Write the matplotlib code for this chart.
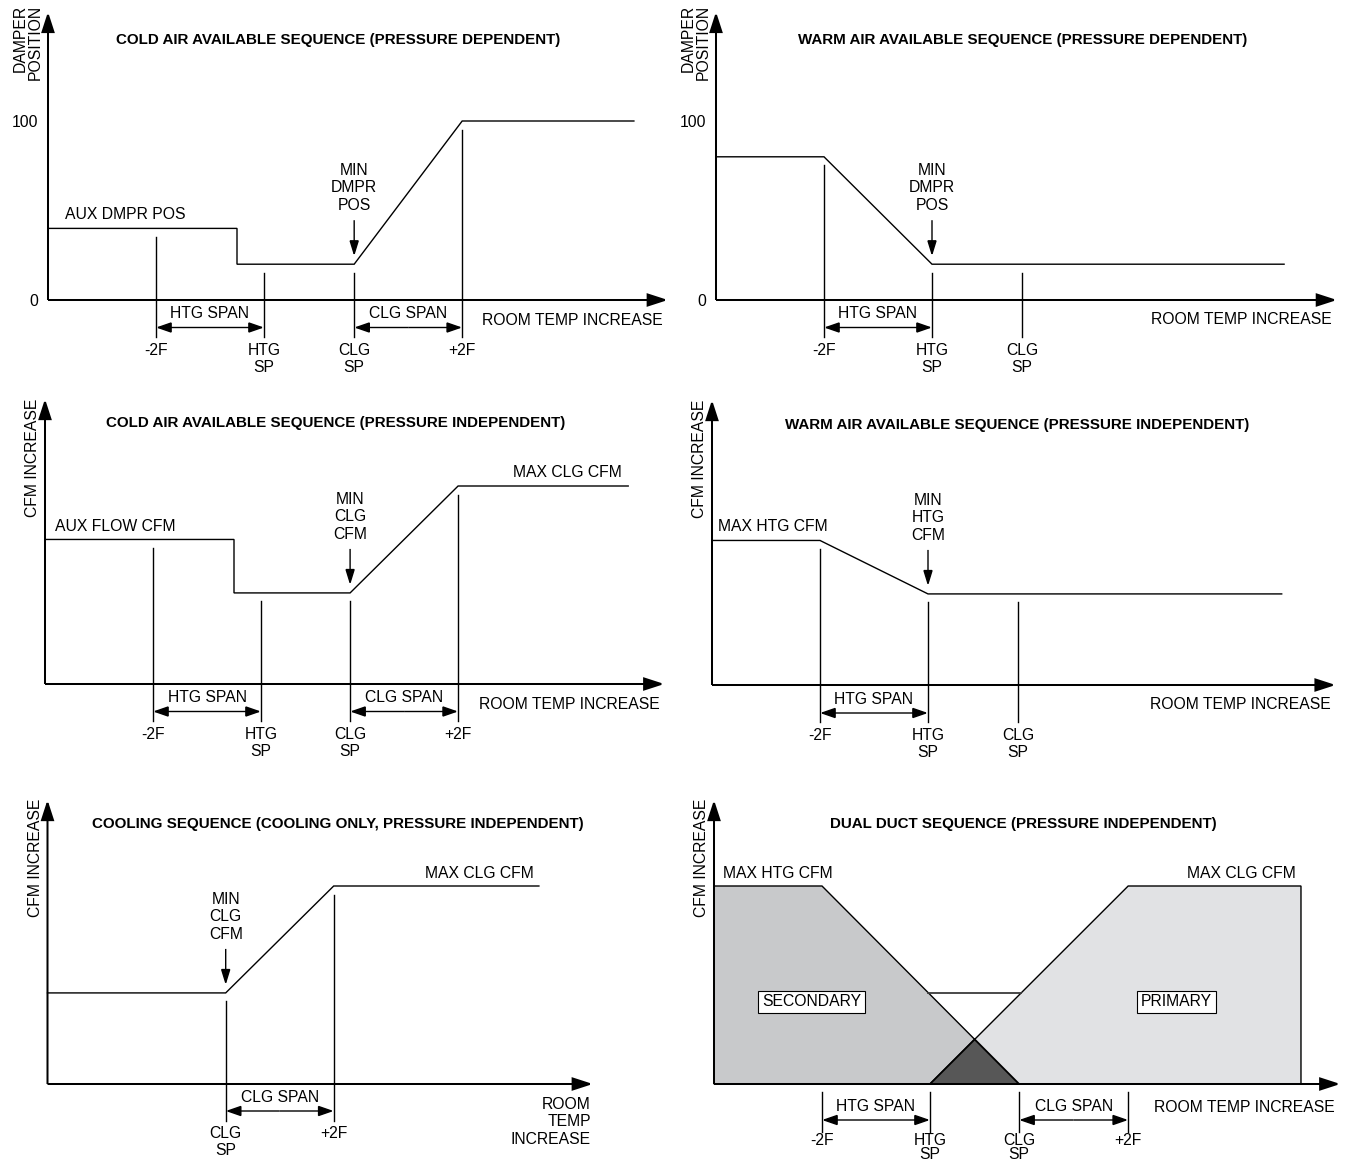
import numpy as np
import matplotlib
matplotlib.use("Agg")
import matplotlib.pyplot as plt
from matplotlib.patches import Polygon

# ---------------- data (x in deg F from the CFM/damper axis, y in % of max) ----------------
# A: cold air available sequence (pressure dependent)
a_curve_x = [0.0, 3.5, 3.5, 5.67, 7.67, 10.85]
a_curve_y = [40, 40, 20, 20, 100, 100]
a_marks = [2.0, 4.0, 5.67, 7.67]
a_mark_labels = ["-2F", "HTG\nSP", "CLG\nSP", "+2F"]
a_yticks = [0, 100]

# B: warm air available sequence (pressure dependent)
b_curve_x = [0.0, 2.0, 4.0, 10.52]
b_curve_y = [80, 80, 20, 20]
b_marks = [2.0, 4.0, 5.67]
b_mark_labels = ["-2F", "HTG\nSP", "CLG\nSP"]
b_yticks = [0, 100]

# C: cold air available sequence (pressure independent)
c_curve_x = [0.0, 3.5, 3.5, 5.65, 7.65, 10.8]
c_curve_y = [73, 73, 46, 46, 100, 100]
c_marks = [2.0, 4.0, 5.65, 7.65]
c_mark_labels = ["-2F", "HTG\nSP", "CLG\nSP", "+2F"]

# D: warm air available sequence (pressure independent)
d_curve_x = [0.0, 2.0, 4.0, 10.55]
d_curve_y = [73, 73, 46, 46]
d_marks = [2.0, 4.0, 5.67]
d_mark_labels = ["-2F", "HTG\nSP", "CLG\nSP"]

# E: cooling sequence (cooling only)
e_curve_x = [0.0, 3.3, 5.3, 9.1]
e_curve_y = [46, 46, 100, 100]
e_marks = [3.3, 5.3]
e_mark_labels = ["CLG\nSP", "+2F"]

# F: dual duct sequence
f_secondary_x = [0.0, 2.0, 5.65, 0.0]
f_secondary_y = [100, 100, 0, 0]
f_primary_x = [4.0, 7.67, 10.87, 10.87]
f_primary_y = [0, 100, 100, 0]
f_min = 46
f_marks = [2.0, 4.0, 5.65, 7.67]
f_mark_labels = ["-2F", "HTG\nSP", "CLG\nSP", "+2F"]

# ---------------- style ----------------
W, H, DPI = 1348, 1162, 100
plt.rcParams["font.family"] = ["Liberation Sans", "DejaVu Sans"]
FS = 11.3
TFS = 10.9
PX = DPI / 72.0
CAP = 0.716 * FS * PX / 2
TCAP = 0.716 * TFS * PX / 2
AX_LW = 1.45
LN_LW = 1.0
C_SEC = "#c8c9cb"
C_PRI = "#e1e2e4"
C_OVR = "#575757"

fig = plt.figure(figsize=(W / DPI, H / DPI), dpi=DPI)


class Panel:
    def __init__(self, ox, oy, sx, sy):
        self.sx, self.sy = sx, sy
        ax = fig.add_axes([0, 0, 1, 1])
        ax.set_xlim(-ox / sx, (W - ox) / sx)
        ax.set_ylim(-(H - oy) / sy, oy / sy)
        ax.axis("off")
        ax.patch.set_visible(False)
        self.ax = ax

    def dx(self, p):
        return p / self.sx

    def dy(self, p):
        return p / self.sy

    def text(self, x, y, s, dx=0, dy=0, ha="center", bold=False, rot=0, **kw):
        cap = TCAP if bold else CAP
        size = TFS if bold else FS
        if rot:
            self.ax.annotate(s, (x, y), xytext=(dx + cap, dy), textcoords="offset pixels",
                             ha=ha, va="baseline", rotation=rot, rotation_mode="anchor",
                             fontsize=size, fontweight="bold" if bold else "normal", **kw)
        else:
            self.ax.annotate(s, (x, y), xytext=(dx, dy - cap), textcoords="offset pixels",
                             ha=ha, va="baseline", fontsize=size,
                             fontweight="bold" if bold else "normal", **kw)

    def lines_text(self, x, y, s, dx=0, dy=0, step=17.5, ha="center"):
        for i, line in enumerate(s.split("\n")):
            self.text(x, y, line, dx=dx, dy=dy - i * step, ha=ha)

    def arrow(self, p0, p1, hl, hw, lw, style="-|>"):
        self.ax.annotate("", xy=p1, xytext=p0, xycoords="data",
                         arrowprops=dict(arrowstyle=f"{style},head_length={hl},head_width={hw}",
                                         lw=lw, color="black", shrinkA=0, shrinkB=0,
                                         mutation_scale=1.0 / PX, joinstyle="miter",
                                         capstyle="butt"))

    def axes_arrows(self, xtip, ytop):
        self.arrow((0, 0), (xtip, 0), 17, 5.5, AX_LW)
        self.arrow((0, 0), (0, ytop), 17, 5.5, AX_LW)

    def curve(self, xs, ys):
        self.ax.plot(xs, ys, color="black", lw=LN_LW, solid_joinstyle="miter")

    def marks(self, xs, labels, tops, bottom_px=36.5, label_px=49):
        for x, lab, t in zip(xs, labels, tops):
            self.ax.plot([x, x], [t, -self.dy(bottom_px)], color="black", lw=LN_LW)
            self.lines_text(x, 0, lab, dy=-label_px)

    def span(self, x0, x1, label, arrow_px=27.5, text_px=12.5):
        y = -self.dy(arrow_px)
        self.arrow((0.5 * (x0 + x1), y), (x0, y), 13, 4.5, LN_LW)
        self.arrow((0.5 * (x0 + x1), y), (x1, y), 13, 4.5, LN_LW)
        self.text(0.5 * (x0 + x1), 0, label, dy=-text_px)

    def min_label(self, x, y, s):
        self.lines_text(x, y, s, dy=95)
        self.arrow((x, y + self.dy(44)), (x, y + self.dy(8)), 13, 4.0, LN_LW)


GAP = 8.5


def tops_from_curve(P, marks, cx, cy):
    return [np.interp(m, cx, cy) - P.dy(GAP) for m in marks]


# ---------------- panel A ----------------
A = Panel(48, 300, 54, 1.79)
A.axes_arrows(11.48, 161)
A.curve(a_curve_x, a_curve_y)
A.marks(a_marks, a_mark_labels, tops_from_curve(A, a_marks, a_curve_x, a_curve_y))
A.span(a_marks[0], a_marks[1], "HTG SPAN")
A.span(a_marks[2], a_marks[3], "CLG SPAN")
for t in a_yticks:
    A.text(0, t, str(t), dx=-10, ha="right")
A.text(0, 0, "DAMPER", dx=-29, dy=295, ha="right", rot=90)
A.text(0, 0, "POSITION", dx=-13.5, dy=295, ha="right", rot=90)
A.text(5.37, 0, "COLD AIR AVAILABLE SEQUENCE (PRESSURE DEPENDENT)", dy=261, bold=True)
A.text(11.48, 0, "ROOM TEMP INCREASE", dx=-5, dy=-19, ha="right")
A.text(0, a_curve_y[0], "AUX DMPR POS", dx=17, dy=15, ha="left")
A.min_label(a_curve_x[3], a_curve_y[3], "MIN\nDMPR\nPOS")

# ---------------- panel B ----------------
B = Panel(716, 300, 54, 1.79)
B.axes_arrows(11.5, 161)
B.curve(b_curve_x, b_curve_y)
B.marks(b_marks, b_mark_labels, tops_from_curve(B, b_marks, b_curve_x, b_curve_y))
B.span(b_marks[0], b_marks[1], "HTG SPAN")
for t in b_yticks:
    B.text(0, t, str(t), dx=-10, ha="right")
B.text(0, 0, "DAMPER", dx=-29, dy=295, ha="right", rot=90)
B.text(0, 0, "POSITION", dx=-13.5, dy=295, ha="right", rot=90)
B.text(5.67, 0, "WARM AIR AVAILABLE SEQUENCE (PRESSURE DEPENDENT)", dy=261, bold=True)
B.text(11.5, 0, "ROOM TEMP INCREASE", dx=-5, dy=-18, ha="right")
B.min_label(b_curve_x[2], b_curve_y[2], "MIN\nDMPR\nPOS")

# ---------------- panel C ----------------
C = Panel(45, 684, 54, 1.98)
C.axes_arrows(11.47, 144)
C.curve(c_curve_x, c_curve_y)
C.marks(c_marks, c_mark_labels, tops_from_curve(C, c_marks, c_curve_x, c_curve_y))
C.span(c_marks[0], c_marks[1], "HTG SPAN")
C.span(c_marks[2], c_marks[3], "CLG SPAN")
C.text(0, 0, "CFM INCREASE", dx=-13.5, dy=226, rot=90)
C.text(5.39, 0, "COLD AIR AVAILABLE SEQUENCE (PRESSURE INDEPENDENT)", dy=262, bold=True)
C.text(11.47, 0, "ROOM TEMP INCREASE", dx=-5, dy=-19, ha="right")
C.text(0, c_curve_y[0], "AUX FLOW CFM", dx=10, dy=14.5, ha="left")
C.text(c_curve_x[-1], c_curve_y[-1], "MAX CLG CFM", dx=-6, dy=14.5, ha="right")
C.min_label(c_curve_x[3], c_curve_y[3], "MIN\nCLG\nCFM")

# ---------------- panel D ----------------
D = Panel(712, 685, 54, 1.98)
D.axes_arrows(11.55, 144)
D.curve(d_curve_x, d_curve_y)
D.marks(d_marks, d_mark_labels, tops_from_curve(D, d_marks, d_curve_x, d_curve_y))
D.span(d_marks[0], d_marks[1], "HTG SPAN", arrow_px=28, text_px=13)
D.text(0, 0, "CFM INCREASE", dx=-13.5, dy=226, rot=90)
D.text(5.65, 0, "WARM AIR AVAILABLE SEQUENCE (PRESSURE INDEPENDENT)", dy=261, bold=True)
D.text(11.55, 0, "ROOM TEMP INCREASE", dx=-5, dy=-18.5, ha="right")
D.text(0, d_curve_y[0], "MAX HTG CFM", dx=6.5, dy=15, ha="left")
D.min_label(d_curve_x[2], d_curve_y[2], "MIN\nHTG\nCFM")

# ---------------- panel E ----------------
E = Panel(47.5, 1084, 54, 1.98)
E.axes_arrows(10.1, 143.5)
E.curve(e_curve_x, e_curve_y)
E.marks(e_marks, e_mark_labels, tops_from_curve(E, e_marks, e_curve_x, e_curve_y), label_px=48)
E.span(e_marks[0], e_marks[1], "CLG SPAN", arrow_px=27, text_px=12)
E.text(0, 0, "CFM INCREASE", dx=-13.5, dy=226, rot=90)
E.text(5.38, 0, "COOLING SEQUENCE (COOLING ONLY, PRESSURE INDEPENDENT)", dy=261, bold=True)
E.lines_text(10.1, 0, "ROOM\nTEMP\nINCREASE", dx=-2, dy=-19, ha="right")
E.text(e_curve_x[-1], e_curve_y[-1], "MAX CLG CFM", dx=-5, dy=14, ha="right")
E.min_label(e_curve_x[1], e_curve_y[1], "MIN\nCLG\nCFM")

# ---------------- panel F ----------------
F = Panel(714, 1084, 54, 1.98)
sec = np.column_stack([f_secondary_x, f_secondary_y])
pri = np.column_stack([f_primary_x, f_primary_y])
F.ax.add_patch(Polygon(sec, closed=True, facecolor=C_SEC, edgecolor="black", lw=LN_LW))
F.ax.add_patch(Polygon(pri, closed=True, facecolor=C_PRI, edgecolor="black", lw=LN_LW))
# descending edge of secondary and rising edge of primary
s0, s1 = sec[1], sec[2]
p0, p1 = pri[0], pri[1]
ms = (s1[1] - s0[1]) / (s1[0] - s0[0])
mp = (p1[1] - p0[1]) / (p1[0] - p0[0])
xi = (p0[1] - s0[1] + ms * s0[0] - mp * p0[0]) / (ms - mp)
yi = s0[1] + ms * (xi - s0[0])
F.ax.add_patch(Polygon([[p0[0], 0], [xi, yi], [s1[0], 0]], closed=True,
                       facecolor=C_OVR, edgecolor="black", lw=LN_LW * 1.3))
xs_min = s0[0] + (f_min - s0[1]) / ms
xp_min = p0[0] + (f_min - p0[1]) / mp
F.ax.plot([xs_min, xp_min], [f_min, f_min], color="#3a3a3a", lw=1.3)
F.axes_arrows(11.6, 143.5)
for m, lab in zip(f_marks, f_mark_labels):
    F.ax.plot([m, m], [-F.dy(8), -F.dy(47.5)], color="black", lw=LN_LW)
    F.lines_text(m, 0, lab, dy=-55, step=14)
F.span(f_marks[0], f_marks[1], "HTG SPAN", arrow_px=36, text_px=21)
F.span(f_marks[2], f_marks[3], "CLG SPAN", arrow_px=36, text_px=21)
F.text(0, 0, "CFM INCREASE", dx=-13.5, dy=226, rot=90)
F.text(5.72, 0, "DUAL DUCT SEQUENCE (PRESSURE INDEPENDENT)", dy=261, bold=True)
F.text(11.6, 0, "ROOM TEMP INCREASE", dx=-6, dy=-22, ha="right")
F.text(0, f_secondary_y[0], "MAX HTG CFM", dx=8.7, dy=14, ha="left")
F.text(f_primary_x[2], f_primary_y[2], "MAX CLG CFM", dx=-5, dy=14, ha="right")
box = dict(boxstyle="square,pad=0.25", facecolor="white", edgecolor="black", lw=0.8)
F.text(1.81, 42, "SECONDARY", bbox=box)
F.text(8.56, 42, "PRIMARY", bbox=box)

fig.savefig("out.png", dpi=DPI)
